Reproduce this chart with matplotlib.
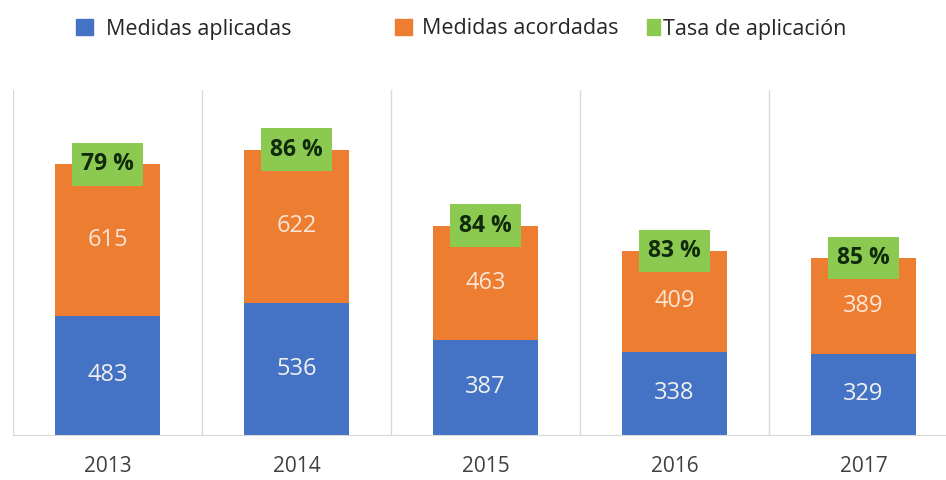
import matplotlib.pyplot as plt
from matplotlib.patches import Patch
import numpy as np

plt.rcParams['font.family'] = ['Open Sans', 'DejaVu Sans']

years = ['2013', '2014', '2015', '2016', '2017']
aplicadas = [483, 536, 387, 338, 329]
acordadas = [615, 622, 463, 409, 389]
tasa = [79, 86, 84, 83, 85]

blue = '#4472C4'
orange = '#ED7D31'
green = '#8CC950'
grid_c = '#D9D9D9'

fig = plt.figure(figsize=(9.46, 4.8), dpi=100)
ax = fig.add_axes([13 / 946, 45 / 480, 945 / 946, 345 / 480])

x = np.arange(len(years))
ax.bar(x, aplicadas, width=0.555, color=blue, zorder=2)
ax.bar(x, acordadas, bottom=aplicadas, width=0.555, color=orange, zorder=2)

for i in range(len(years)):
    ax.text(x[i], aplicadas[i] / 2, str(aplicadas[i]), ha='center', va='center',
            fontsize=17, color='#F0F0F0', zorder=3)
    ax.text(x[i], aplicadas[i] + acordadas[i] / 2, str(acordadas[i]), ha='center', va='center',
            fontsize=17, color='#FBE5D6', zorder=3)
    ax.text(x[i], aplicadas[i] + acordadas[i], '%d %%' % tasa[i], ha='center', va='center',
            fontsize=16.5, fontweight='bold', color='#102A0C', zorder=4,
            bbox=dict(boxstyle='square,pad=0.4', fc=green, ec='none'))

ax.set_xlim(-0.5, len(years) - 0.5)
ax.set_ylim(0, 1400)
ax.set_xticks(x, years)
ax.set_xticks(np.arange(-0.5, len(years)), minor=True)
ax.tick_params(axis='x', which='both', length=0, pad=15, labelsize=15, labelcolor='#404040')
ax.set_yticks([])
ax.grid(True, which='minor', axis='x', color=grid_c, linewidth=1, zorder=0)
for s in ['top', 'right', 'left']:
    ax.spines[s].set_visible(False)
ax.spines['bottom'].set_color(grid_c)

# legend entries are spaced unevenly in the original, so one legend each
entries = [(blue, 'Medidas aplicadas', 76, 0.8, 0.6),
           (orange, 'Medidas acordadas', 395, 0.8, 0.45),
           (green, 'Tasa de aplicación', 647, 0.6, 0.15)]
for c, lab, xpx, hl, tp in entries:
    fig.legend(handles=[Patch(color=c, label=lab)], loc='center left',
               bbox_to_anchor=(xpx / 946, 1 - 29 / 480), frameon=False, fontsize=15.5,
               handlelength=hl, handleheight=0.75, handletextpad=tp, borderpad=0,
               borderaxespad=0, labelcolor='#262626')

fig.savefig('out.png', dpi=100)
